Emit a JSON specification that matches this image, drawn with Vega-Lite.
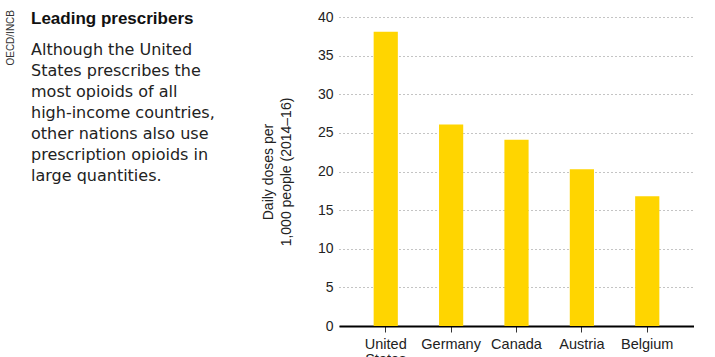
{
  "$schema": "https://vega.github.io/schema/vega-lite/v6.json",
  "autosize": {"type": "pad"},
  "padding": {"left": 6, "top": 10, "right": 0, "bottom": 0},
  "background": "white",
  "config": {"view": {"stroke": null}, "font": "Liberation Sans"},
  "title": {
    "text": "OECD/INCB",
    "orient": "left",
    "anchor": "end",
    "fontSize": 10,
    "fontWeight": "normal",
    "color": "#333333",
    "font": "Liberation Sans",
    "offset": 15
  },
  "hconcat": [
    {
      "width": 355,
      "height": 309,
      "title": {
        "text": "Leading prescribers",
        "subtitle": [
          "Although the United",
          "States prescribes the",
          "most opioids of all",
          "high-income countries,",
          "other nations also use",
          "prescription opioids in",
          "large quantities."
        ],
        "anchor": "start",
        "frame": "group",
        "orient": "top",
        "dx": -308,
        "dy": 179,
        "font": "Liberation Sans",
        "fontSize": 17,
        "fontWeight": "bold",
        "color": "#111111",
        "subtitleFont": "DejaVu Sans",
        "subtitleFontSize": 16,
        "subtitleColor": "#222222",
        "subtitleLineHeight": 21,
        "subtitlePadding": 14
      },
      "data": {
        "values": [
          {"country": "United States", "doses": 38.1},
          {"country": "Germany", "doses": 26.1},
          {"country": "Canada", "doses": 24.1},
          {"country": "Austria", "doses": 20.3},
          {"country": "Belgium", "doses": 16.8}
        ]
      },
      "mark": {"type": "bar", "color": "#FFD500"},
      "encoding": {
        "x": {
          "field": "country",
          "type": "nominal",
          "sort": null,
          "scale": {"paddingInner": 0.63, "paddingOuter": 0.53},
          "axis": {
            "title": null,
            "labelAngle": 0,
            "labelFontSize": 14.5,
            "labelColor": "#222222",
            "labelPadding": 5,
            "labelLineHeight": 15,
            "labelExpr": "datum.value == 'United States' ? ['United', 'States'] : datum.value",
            "domainColor": "#000000",
            "domainWidth": 2,
            "tickColor": "#333333",
            "tickSize": 6,
            "tickWidth": 1,
            "grid": false
          }
        },
        "y": {
          "field": "doses",
          "type": "quantitative",
          "scale": {"domain": [0, 40], "nice": false},
          "axis": {
            "title": ["Daily doses per", "1,000 people (2014–16)"],
            "titleFontSize": 14,
            "titleFontWeight": "normal",
            "titleColor": "#222222",
            "titleLineHeight": 18,
            "titlePadding": 24,
            "values": [0, 5, 10, 15, 20, 25, 30, 35, 40],
            "labelFontSize": 14,
            "labelColor": "#222222",
            "labelPadding": 6,
            "domain": false,
            "ticks": false,
            "grid": true,
            "gridColor": "#888888",
            "gridDash": [1, 3],
            "gridWidth": 1
          }
        }
      }
    }
  ]
}
